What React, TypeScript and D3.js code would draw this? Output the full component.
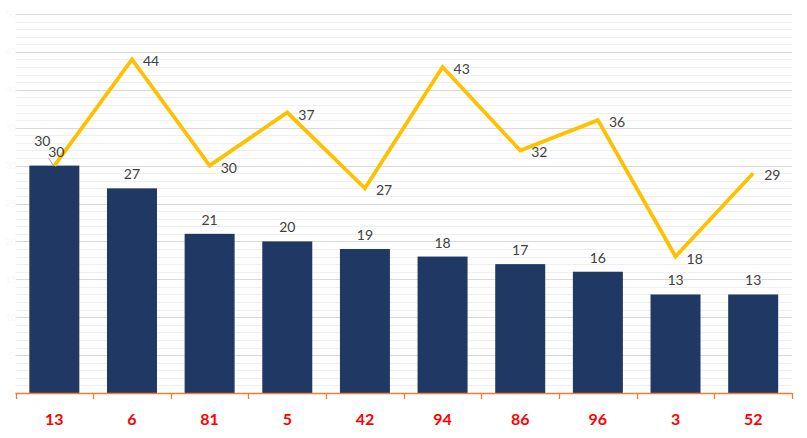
import React from "react";
import * as d3 from "d3";

const categories = ["13", "6", "81", "5", "42", "94", "86", "96", "3", "52"];
const barValues = [30, 27, 21, 20, 19, 18, 17, 16, 13, 13];
const lineValues = [30, 44, 30, 37, 27, 43, 32, 36, 18, 29];
const majorTicks = [0, 5, 10, 15, 20, 25, 30, 35, 40, 45, 50];
const minorTicks = d3.range(0, 51, 1);

const W = 807;
const H = 438;
const left = 15.5;
const right = 792;
const top = 14;
const bottom = 393;

export default function App() {
  const xb = d3.scaleBand<string>().domain(categories).range([left, right]);
  const y = d3.scaleLinear().domain([0, 50]).range([bottom, top]);
  const cx = (c: string) => (xb(c) as number) + xb.bandwidth() / 2;
  const barW = 50;
  const line = d3
    .line<number>()
    .x((_, i) => cx(categories[i]))
    .y((d) => y(d));
  const font = "Lato, 'Open Sans', sans-serif";
  return (
    <svg width={W} height={H} style={{ position: "absolute", left: 0, top: 0, background: "#fff" }}>
      {minorTicks.map((t) => (
        <line key={"m" + t} x1={left} x2={right} y1={Math.round(y(t)) + 0.5} y2={Math.round(y(t)) + 0.5} stroke="#efefef" strokeWidth={1} />
      ))}
      {majorTicks.map((t) => (
        <line key={"M" + t} x1={left} x2={right} y1={Math.round(y(t)) + 0.5} y2={Math.round(y(t)) + 0.5} stroke="#d9d9d9" strokeWidth={1} />
      ))}
      {majorTicks.map((t) => (
        <text key={"yl" + t} x={11} y={y(t) + 3.5} fontSize={10} fill="#f8f8f8" textAnchor="middle" fontFamily={font}>
          {t}
        </text>
      ))}
      {categories.map((c, i) => (
        <rect key={"b" + c} x={cx(c) - barW / 2} y={y(barValues[i])} width={barW} height={bottom - y(barValues[i])} fill="#203864" />
      ))}
      <line x1={left} x2={right} y1={bottom + 0.5} y2={bottom + 0.5} stroke="#ED7D31" strokeWidth={1.3} />
      {categories.concat(["end"]).map((c, i) => {
        const xx = Math.round(left + i * xb.step()) + 0.5;
        return <line key={"t" + i} x1={xx} x2={xx} y1={bottom} y2={bottom + 6} stroke="#ED7D31" strokeWidth={1.3} />;
      })}
      <path d={line(lineValues) as string} fill="none" stroke="#FFC000" strokeWidth={3.8} strokeLinejoin="miter" />
      {categories.map((c, i) =>
        i === 0 ? null : (
          <text key={"bl" + c} x={cx(c)} y={y(barValues[i]) - 9} fontSize={14} fill="#404040" textAnchor="middle" fontFamily={font}>
            {barValues[i]}
          </text>
        )
      )}
      {categories.map((c, i) =>
        i === 0 ? null : (
          <text key={"ll" + c} x={cx(c) + 11} y={y(lineValues[i]) + 7} fontSize={14} fill="#404040" textAnchor="start" fontFamily={font}>
            {lineValues[i]}
          </text>
        )
      )}
      {/* first category: overlapping labels with leader line */}
      <text x={cx(categories[0]) - 12} y={y(barValues[0]) - 20} fontSize={14} fill="#404040" textAnchor="middle" fontFamily={font}>
        {barValues[0]}
      </text>
      <text x={cx(categories[0]) + 2} y={y(lineValues[0]) - 9} fontSize={14} fill="#404040" textAnchor="middle" fontFamily={font}>
        {lineValues[0]}
      </text>
      <line x1={cx(categories[0]) - 6} y1={y(lineValues[0]) - 8} x2={cx(categories[0]) - 1} y2={y(lineValues[0])} stroke="#a6a6a6" strokeWidth={1} />
      {categories.map((c) => (
        <text key={"xl" + c} x={cx(c)} y={425} fontSize={16} fontWeight="bold" fill="#FF0000" textAnchor="middle" fontFamily={font}>
          {c}
        </text>
      ))}
    </svg>
  );
}
